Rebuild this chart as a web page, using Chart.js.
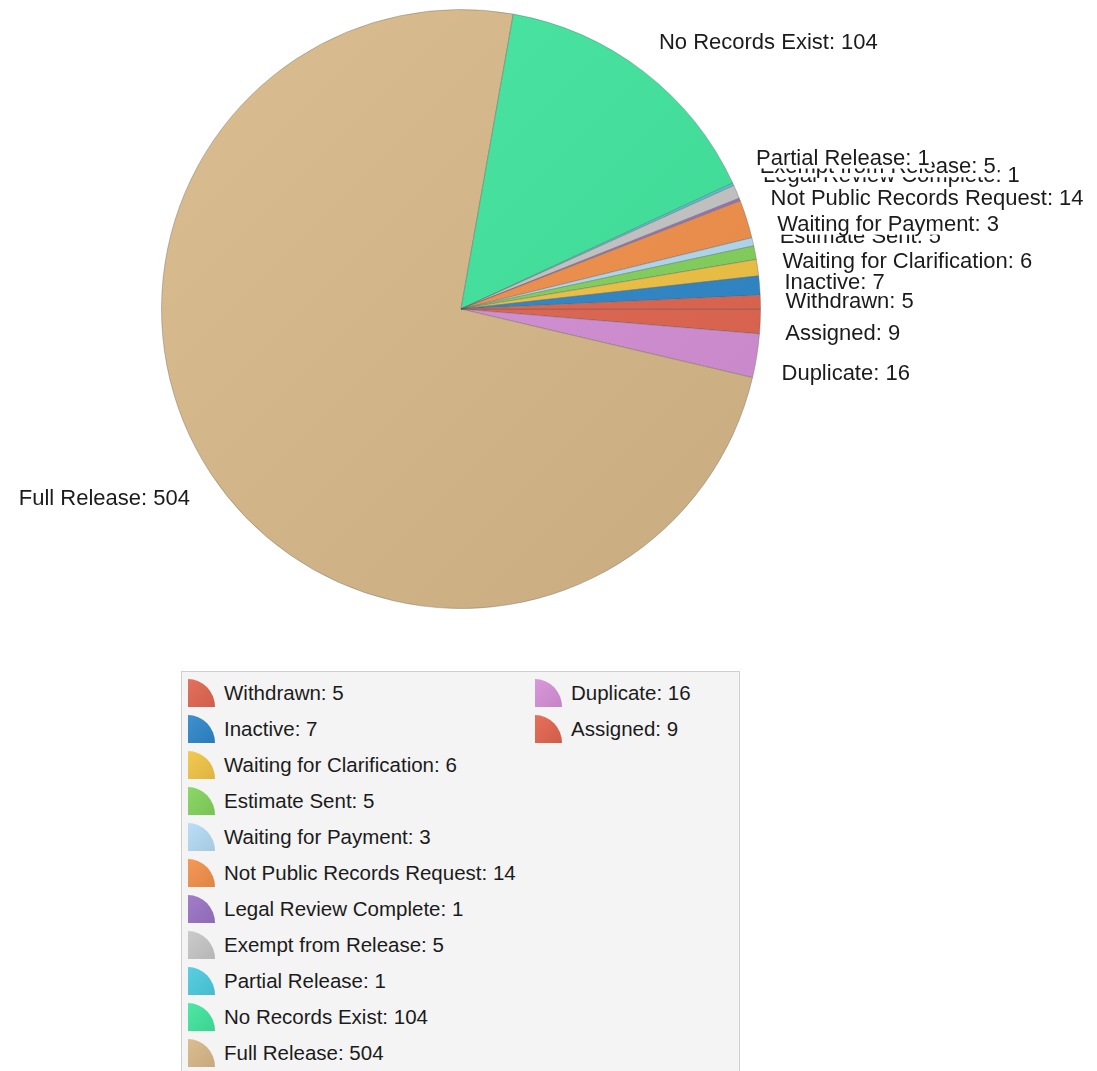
<!DOCTYPE html>
<html lang="en">
<head>
<meta charset="UTF-8">
<title>Request Status</title>
<style>
body { margin:0; padding:0; background:#fff; width:1097px; height:1071px; overflow:hidden; position:relative; font-family:"Liberation Sans", Arial, sans-serif; }
#pie { position:absolute; left:0; top:0; }
#legend { position:absolute; left:181px; top:671px; width:559px; height:430px; box-sizing:border-box;
  border:1px solid #cfcfcf; background:#f4f4f4; padding:3px 0 0 6px;
  display:grid; grid-auto-flow:column; grid-template-rows:repeat(11, 36px); grid-template-columns:347px auto; }
.item { display:flex; align-items:center; font-size:20.5px; color:#1b1b1b; white-space:nowrap; }
.icon { width:27px; height:28px; border-top-right-radius:100%; margin-right:9px; flex:none; }
</style>
</head>
<body>

<canvas id="pie" width="1097" height="640"></canvas>
<div id="legend"></div>

<script src="https://cdn.jsdelivr.net/npm/chart.js"></script>
<script>
// data, in the order the legend lists it
const categories = ['Withdrawn', 'Inactive', 'Waiting for Clarification', 'Estimate Sent', 'Waiting for Payment',
  'Not Public Records Request', 'Legal Review Complete', 'Exempt from Release', 'Partial Release',
  'No Records Exist', 'Full Release', 'Duplicate', 'Assigned'];
const counts = [5, 7, 6, 5, 3, 14, 1, 5, 1, 104, 504, 16, 9];
const colors = ['#e2654f', '#2d87c9', '#f1c443', '#83d45b', '#b3dbf4', '#f39049', '#9a72c4', '#c6c6c6',
  '#4ccbe0', '#3fe59d', '#d7b887', '#d58fd6', '#e3654f'];

// the original pie runs counter-clockwise, Chart.js runs clockwise -> feed it reversed
const pieLabels = categories.slice().reverse();
const pieCounts = counts.slice().reverse();
const pieColors = colors.slice().reverse();

function shade(hex, amt) {
  const n = parseInt(hex.slice(1), 16);
  let r = (n >> 16) & 255, g = (n >> 8) & 255, b = n & 255;
  const f = v => Math.max(0, Math.min(255, Math.round(v + amt * (amt > 0 ? 255 - v : v))));
  return 'rgb(' + f(r) + ',' + f(g) + ',' + f(b) + ')';
}

// outside labels "Name: value" on white boxes, later ones drawn over earlier ones
const outsideLabels = {
  id: 'outsideLabels',
  afterDatasetsDraw(chart) {
    const ctx = chart.ctx;
    const arcs = chart.getDatasetMeta(0).data;
    ctx.save();
    ctx.font = '22px "Liberation Sans", Arial, sans-serif';
    ctx.textBaseline = 'middle';
    for (let i = arcs.length - 1; i >= 0; i--) {
      const arc = arcs[i];
      const mid = (arc.startAngle + arc.endAngle) / 2;
      const c = Math.cos(mid), s = Math.sin(mid);
      const x = arc.x + (arc.outerRadius + 25) * c;
      let y = arc.y + (arc.outerRadius + 45) * s;
      if (c > 0 && s > 0) y += 10;            // below the 3 o'clock line
      if (c > 0 && s < -0.15 && s > -0.5) y -= 8;  // crowded upper-right group
      if (s < -0.5) y += 6;
      const text = pieLabels[i] + ': ' + pieCounts[i];
      const w = ctx.measureText(text).width;
      const left = c >= 0 ? x : x - w;
      ctx.fillStyle = '#ffffff';
      ctx.fillRect(left - 2, y - 11, w + 4, 22);
      ctx.fillStyle = '#1b1b1b';
      ctx.textAlign = 'left';
      ctx.fillText(text, left, y + 1);
    }
    ctx.restore();
  }
};

const chart = new Chart(document.getElementById('pie'), {
  type: 'pie',
  data: {
    labels: pieLabels,
    datasets: [{
      data: pieCounts,
      backgroundColor: c => {
        const base = pieColors[c.dataIndex];
        const area = c.chart.chartArea;
        if (!area) return base;
        const g = c.chart.ctx.createLinearGradient(area.left, area.top, area.right, area.bottom);
        g.addColorStop(0, shade(base, 0.08));
        g.addColorStop(1, shade(base, -0.07));
        return g;
      },
      borderColor: 'rgba(90,90,90,0.35)',
      borderWidth: 1
    }]
  },
  options: {
    responsive: false,
    animation: false,
    rotation: 90,
    layout: { padding: { left: 161, right: 336, top: 9, bottom: 31 } },
    plugins: { legend: { display: false }, tooltip: { enabled: false } }
  },
  plugins: [outsideLabels]
});

// legend box, two columns filled top to bottom
const legend = document.getElementById('legend');
categories.forEach((name, i) => {
  const item = document.createElement('div');
  item.className = 'item';
  const icon = document.createElement('span');
  icon.className = 'icon';
  icon.style.background = 'linear-gradient(135deg, ' + shade(colors[i], 0.08) + ', ' + shade(colors[i], -0.08) + ')';
  const txt = document.createElement('span');
  txt.textContent = name + ': ' + counts[i];
  item.appendChild(icon);
  item.appendChild(txt);
  legend.appendChild(item);
});
</script>

</body>
</html>
